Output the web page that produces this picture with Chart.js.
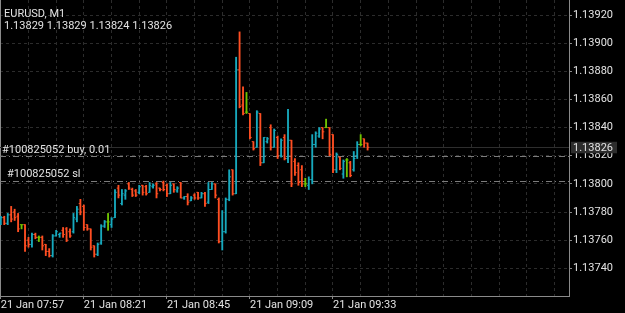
<!DOCTYPE html>
<html>
<head>
<meta charset="utf-8">
<script src="https://cdn.jsdelivr.net/npm/chart.js@4/dist/chart.umd.min.js"></script>
<style>
html, body { margin: 0; padding: 0; background: #000; }
#wrap { width: 625px; height: 313px; }
</style>
</head>
<body>
<div id="wrap"><canvas id="chart" width="625" height="313"></canvas></div>
<script>
const symbol = 'EURUSD, M1';
const lastBarText = '1.13829 1.13829 1.13824 1.13826';
const timeLabels = ['21 Jan 07:57', '21 Jan 08:21', '21 Jan 08:45', '21 Jan 09:09', '21 Jan 09:33'];
const priceTicks = [1.13740, 1.13760, 1.13780, 1.13800, 1.13820, 1.13840, 1.13860, 1.13880, 1.13900, 1.13920];
const lastPrice = 1.13826;
const orderLines = [
    { price: 1.13820, label: '#100825052 buy, 0.01' },
    { price: 1.13802, label: '#100825052 sl' }
];

// one-minute bars, 07:57 .. 09:43
const opens = [
    1.13772, 1.13776, 1.13772, 1.13778, 1.13780, 1.13777, 1.13771, 1.13771, 1.13760, 1.13757,
    1.13764, 1.13762, 1.13762, 1.13757, 1.13752, 1.13749, 1.13763, 1.13764, 1.13767, 1.13768,
    1.13766, 1.13766, 1.13775, 1.13786, 1.13784, 1.13771, 1.13768, 1.13756, 1.13750, 1.13758,
    1.13770, 1.13773, 1.13771, 1.13776, 1.13797, 1.13786, 1.13792, 1.13800, 1.13796, 1.13795,
    1.13794, 1.13799, 1.13798, 1.13794, 1.13798, 1.13800, 1.13797, 1.13801, 1.13799, 1.13793,
    1.13800, 1.13795, 1.13801, 1.13790, 1.13791, 1.13788, 1.13792, 1.13794, 1.13790, 1.13793,
    1.13787, 1.13796, 1.13800, 1.13789, 1.13759, 1.13766, 1.13789, 1.13810, 1.13793, 1.13881,
    1.13856, 1.13851, 1.13850, 1.13830, 1.13826, 1.13850, 1.13815, 1.13830, 1.13840, 1.13826,
    1.13833, 1.13820, 1.13833, 1.13818, 1.13831, 1.13816, 1.13813, 1.13810, 1.13800, 1.13799,
    1.13803, 1.13828, 1.13834, 1.13840, 1.13840, 1.13840, 1.13835, 1.13810, 1.13819, 1.13807,
    1.13817, 1.13815, 1.13810, 1.13820, 1.13828, 1.13832, 1.13829
];
const highs = [
    1.13777, 1.13777, 1.13779, 1.13784, 1.13782, 1.13779, 1.13771, 1.13771, 1.13762, 1.13765,
    1.13765, 1.13763, 1.13763, 1.13757, 1.13754, 1.13764, 1.13767, 1.13765, 1.13769, 1.13769,
    1.13768, 1.13779, 1.13784, 1.13789, 1.13785, 1.13771, 1.13768, 1.13756, 1.13758, 1.13771,
    1.13774, 1.13779, 1.13776, 1.13796, 1.13799, 1.13796, 1.13796, 1.13801, 1.13797, 1.13796,
    1.13799, 1.13799, 1.13799, 1.13801, 1.13800, 1.13801, 1.13797, 1.13802, 1.13800, 1.13801,
    1.13800, 1.13798, 1.13801, 1.13791, 1.13793, 1.13791, 1.13793, 1.13794, 1.13794, 1.13794,
    1.13801, 1.13801, 1.13800, 1.13790, 1.13781, 1.13790, 1.13810, 1.13810, 1.13890, 1.13908,
    1.13869, 1.13865, 1.13850, 1.13830, 1.13852, 1.13850, 1.13833, 1.13833, 1.13842, 1.13839,
    1.13834, 1.13832, 1.13835, 1.13853, 1.13831, 1.13818, 1.13815, 1.13813, 1.13804, 1.13805,
    1.13835, 1.13837, 1.13840, 1.13840, 1.13846, 1.13840, 1.13835, 1.13822, 1.13819, 1.13817,
    1.13818, 1.13816, 1.13823, 1.13830, 1.13835, 1.13832, 1.13829
];
const lows = [
    1.13771, 1.13771, 1.13771, 1.13773, 1.13774, 1.13766, 1.13768, 1.13752, 1.13755, 1.13755,
    1.13761, 1.13759, 1.13753, 1.13749, 1.13748, 1.13748, 1.13763, 1.13762, 1.13762, 1.13759,
    1.13762, 1.13765, 1.13773, 1.13778, 1.13767, 1.13767, 1.13753, 1.13748, 1.13749, 1.13757,
    1.13769, 1.13767, 1.13769, 1.13776, 1.13790, 1.13785, 1.13789, 1.13796, 1.13791, 1.13791,
    1.13793, 1.13792, 1.13792, 1.13794, 1.13797, 1.13790, 1.13795, 1.13795, 1.13791, 1.13793,
    1.13794, 1.13794, 1.13790, 1.13789, 1.13785, 1.13788, 1.13789, 1.13789, 1.13790, 1.13784,
    1.13786, 1.13796, 1.13790, 1.13758, 1.13753, 1.13765, 1.13788, 1.13792, 1.13793, 1.13854,
    1.13849, 1.13850, 1.13832, 1.13824, 1.13826, 1.13813, 1.13815, 1.13829, 1.13824, 1.13826,
    1.13818, 1.13819, 1.13817, 1.13815, 1.13798, 1.13806, 1.13799, 1.13798, 1.13798, 1.13796,
    1.13800, 1.13826, 1.13833, 1.13832, 1.13840, 1.13820, 1.13808, 1.13808, 1.13810, 1.13804,
    1.13805, 1.13805, 1.13809, 1.13818, 1.13827, 1.13826, 1.13824
];
const closes = [
    1.13776, 1.13772, 1.13778, 1.13775, 1.13776, 1.13768, 1.13771, 1.13756, 1.13757, 1.13764,
    1.13762, 1.13762, 1.13756, 1.13752, 1.13749, 1.13763, 1.13766, 1.13765, 1.13764, 1.13760,
    1.13763, 1.13776, 1.13782, 1.13780, 1.13769, 1.13768, 1.13755, 1.13750, 1.13757, 1.13770,
    1.13773, 1.13773, 1.13775, 1.13794, 1.13792, 1.13793, 1.13795, 1.13797, 1.13792, 1.13792,
    1.13798, 1.13794, 1.13793, 1.13799, 1.13799, 1.13793, 1.13796, 1.13796, 1.13793, 1.13799,
    1.13796, 1.13797, 1.13790, 1.13791, 1.13787, 1.13790, 1.13790, 1.13790, 1.13793, 1.13786,
    1.13796, 1.13800, 1.13792, 1.13759, 1.13766, 1.13789, 1.13805, 1.13793, 1.13881, 1.13855,
    1.13850, 1.13851, 1.13833, 1.13825, 1.13851, 1.13815, 1.13833, 1.13832, 1.13826, 1.13838,
    1.13820, 1.13831, 1.13818, 1.13831, 1.13800, 1.13808, 1.13801, 1.13800, 1.13800, 1.13803,
    1.13828, 1.13836, 1.13839, 1.13837, 1.13840, 1.13821, 1.13810, 1.13821, 1.13811, 1.13816,
    1.13817, 1.13806, 1.13818, 1.13828, 1.13828, 1.13829, 1.13826
];

const upColor = '#17a9bd';
const downColor = '#ff4e22';
const flatColor = '#6fc400';
const textColor = '#e2e2e2';
const fontFamily = 'Roboto, "Noto Sans", sans-serif';

function barColor(i) {
    if (closes[i] > opens[i]) return upColor;
    if (closes[i] < opens[i]) return downColor;
    return flatColor;
}

// open tick to the left, close tick to the right of each bar
const barTicks = {
    id: 'barTicks',
    afterDatasetsDraw(chart) {
        const { ctx, chartArea, scales: { x, y } } = chart;
        ctx.save();
        ctx.beginPath();
        ctx.rect(chartArea.left, chartArea.top, chartArea.width, chartArea.height);
        ctx.clip();
        opens.forEach((o, i) => {
            const px = x.getPixelForValue(i);
            ctx.fillStyle = barColor(i);
            ctx.fillRect(px - 1.7, y.getPixelForValue(o) - 0.5, 1.7, 1);
            ctx.fillRect(px, y.getPixelForValue(closes[i]) - 0.5, 1.7, 1);
        });
        ctx.restore();
    }
};

const levels = {
    id: 'levels',
    beforeDatasetsDraw(chart) {
        const { ctx, chartArea, scales: { y } } = chart;
        ctx.save();
        ctx.lineWidth = 1;
        // left frame edge
        ctx.strokeStyle = '#8a8a8a';
        ctx.beginPath();
        ctx.moveTo(chartArea.left + 0.5, chartArea.top);
        ctx.lineTo(chartArea.left + 0.5, chartArea.bottom);
        ctx.stroke();
        // current price line
        let py = Math.round(y.getPixelForValue(lastPrice)) + 0.5;
        ctx.strokeStyle = '#2e2e2e';
        ctx.beginPath();
        ctx.moveTo(chartArea.left, py);
        ctx.lineTo(chartArea.right, py);
        ctx.stroke();
        // order levels
        ctx.strokeStyle = '#7c7c7c';
        ctx.setLineDash([6, 3, 1, 3]);
        orderLines.forEach(l => {
            const ly = Math.round(y.getPixelForValue(l.price)) + 0.5;
            ctx.beginPath();
            ctx.moveTo(chartArea.left, ly);
            ctx.lineTo(chartArea.right, ly);
            ctx.stroke();
        });
        ctx.restore();
    },
    afterDraw(chart) {
        const { ctx, chartArea, scales: { y } } = chart;
        ctx.save();
        ctx.font = '11px ' + fontFamily;
        ctx.fillStyle = textColor;
        ctx.textBaseline = 'alphabetic';
        ctx.textAlign = 'left';
        ctx.fillText(symbol, 4, 17);
        ctx.fillText(lastBarText, 4, 29);
        orderLines.forEach((l, k) => {
            const ly = y.getPixelForValue(l.price);
            ctx.fillText(l.label, k === 0 ? 2 : 7, ly - (k === 0 ? 3 : 4));
        });
        // price tag on the axis
        const py = y.getPixelForValue(lastPrice);
        ctx.fillStyle = '#2d2d2d';
        ctx.fillRect(chartArea.right + 2, py - 5.5, 46, 11.5);
        ctx.fillStyle = textColor;
        ctx.textBaseline = 'middle';
        ctx.fillText(lastPrice.toFixed(5), chartArea.right + 4, py + 0.5);
        ctx.restore();
    }
};

const ctx = document.getElementById('chart').getContext('2d');
new Chart(ctx, {
    type: 'bar',
    data: {
        datasets: [{
            data: opens.map((o, i) => ({ x: i, y: [lows[i], highs[i]] })),
            backgroundColor: opens.map((o, i) => barColor(i)),
            borderWidth: 0,
            barThickness: 1.2,
            grouped: false
        }]
    },
    options: {
        responsive: false,
        animation: false,
        layout: { padding: 0 },
        plugins: {
            legend: { display: false },
            tooltip: { enabled: false }
        },
        scales: {
            x: {
                type: 'linear',
                offset: false,
                min: -0.231,
                max: 164.2,
                afterBuildTicks: scale => {
                    const t = [];
                    for (let v = 0; v <= 160; v += 8) t.push({ value: v });
                    scale.ticks = t;
                },
                afterFit: scale => {
                    scale.height = 17;
                    scale.paddingLeft = 0;
                    scale.paddingRight = 0;
                },
                ticks: {
                    autoSkip: false,
                    maxRotation: 0,
                    align: 'start',
                    padding: 0,
                    color: textColor,
                    font: { family: fontFamily, size: 11 },
                    callback: v => (v % 24 === 0 && timeLabels[v / 24]) ? timeLabels[v / 24] : ''
                },
                grid: {
                    offset: false,
                    color: '#2c2c2c',
                    tickLength: 3,
                    tickColor: c => (c.tick && c.tick.value % 24 === 0 && c.tick.value <= 96) ? '#8a8a8a' : 'rgba(0,0,0,0)'
                },
                border: { color: '#8a8a8a', dash: [3, 3] }
            },
            y: {
                position: 'right',
                min: 1.1372032,
                max: 1.1393066,
                afterBuildTicks: scale => {
                    scale.ticks = priceTicks.map(v => ({ value: v }));
                },
                afterFit: scale => {
                    scale.width = 56;
                    scale.paddingTop = 0;
                    scale.paddingBottom = 0;
                },
                ticks: {
                    padding: 1,
                    color: textColor,
                    font: { family: fontFamily, size: 11 },
                    callback: v => v.toFixed(5)
                },
                grid: {
                    color: '#2c2c2c',
                    tickLength: 3,
                    tickColor: '#8a8a8a'
                },
                border: { color: '#8a8a8a', dash: [3, 3] }
            }
        }
    },
    plugins: [levels, barTicks]
});
</script>
</body>
</html>
